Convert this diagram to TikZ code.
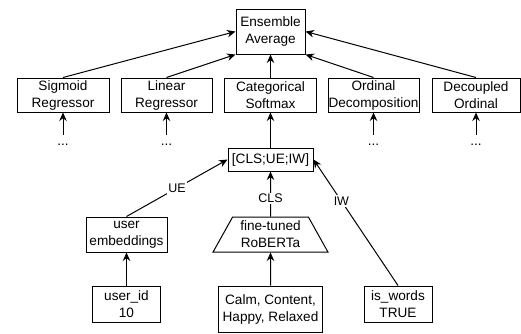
\documentclass[tikz,border=0pt]{standalone}
\usepackage{fontspec}
\setmainfont{Liberation Sans}
\usetikzlibrary{arrows.meta,shapes.geometric}
\begin{document}
\begin{tikzpicture}[x=1pt,y=-1pt,
  box/.style={draw, line width=1pt, inner sep=0pt, align=center, font=\fontsize{13.6}{17}\selectfont},
  trap/.style={box, trapezium, trapezium left angle=60, trapezium right angle=60, trapezium stretches=true},
  lbl/.style={fill=white, inner sep=1.5pt, font=\fontsize{12.5}{14}\selectfont},
  arr/.style={line width=1pt, -{Stealth[length=8.5pt,width=7.5pt]}},
  dotsnode/.style={anchor=base, inner sep=0pt, text height=10pt, font=\fontsize{13.6}{17}\selectfont}]
\useasboundingbox (0,0) rectangle (521,333);

% top
\node[box, minimum width=69pt, minimum height=45pt] (ens) at (270.5,31.5) {Ensemble\\Average};

% model row
\node[box, minimum width=92pt, minimum height=34pt] (sig) at (63,95) {Sigmoid\\Regressor};
\node[box, minimum width=91pt, minimum height=34pt] (lin) at (166.5,95) {Linear\\Regressor};
\node[box, minimum width=92pt, minimum height=34pt] (cat) at (270.5,95) {Categorical\\Softmax};
\node[box, minimum width=91pt, minimum height=34pt] (ord) at (373.5,95) {Ordinal\\Decomposition};
\node[box, minimum width=88pt, minimum height=34pt] (dec) at (476,95) {Decoupled\\Ordinal};

% dots
\node[dotsnode] (d1) at (63,145) {...};
\node[dotsnode] (d2) at (166.5,145) {...};
\node[dotsnode] (d4) at (373.5,145) {...};
\node[dotsnode] (d5) at (476,145) {...};

% concat
\node[box, minimum width=85pt, minimum height=23pt] (cc) at (270.5,159.5) {[CLS;UE;IW]};

% middle
\node[box, minimum width=81pt, minimum height=35pt] (ue) at (126.5,234.5) {user\\embeddings};
\node[trap, minimum width=115pt, minimum height=35pt] (rob) at (270.5,234.5) {fine-tuned\\RoBERTa};

% bottom
\node[box, minimum width=68pt, minimum height=36pt] (uid) at (126.5,304) {user\_id\\10};
\node[box, minimum width=104pt, minimum height=46pt] (calm) at (270.5,309) {Calm, Content,\\Happy, Relaxed};
\node[box, minimum width=68pt, minimum height=36pt] (iw) at (398,304) {is\_words\\TRUE};

% connectors
\draw[arr] (sig.north) -- (ens.west);
\draw[arr] (lin.north) -- (ens.south west);
\draw[arr] (cat.north) -- (ens.south);
\draw[arr] (ord.north) -- (ens.south east);
\draw[arr] (dec.north) -- (ens.east);

\draw[arr] (d1.north) -- (sig.south);
\draw[arr] (d2.north) -- (lin.south);
\draw[arr] (d4.north) -- (ord.south);
\draw[arr] (d5.north) -- (dec.south);

\draw[arr] (cc.north) -- (cat.south);

\draw[arr] (ue.north) -- node[lbl] {UE} (cc.west);
\draw[arr] (rob.north) -- node[lbl, pos=0.4] {CLS} (cc.south);
\draw[arr] (iw.north) -- node[lbl, pos=0.67] {IW} (cc.east);

\draw[arr] (uid.north) -- (ue.south);
\draw[arr] (calm.north) -- (rob.south);
\end{tikzpicture}
\end{document}
